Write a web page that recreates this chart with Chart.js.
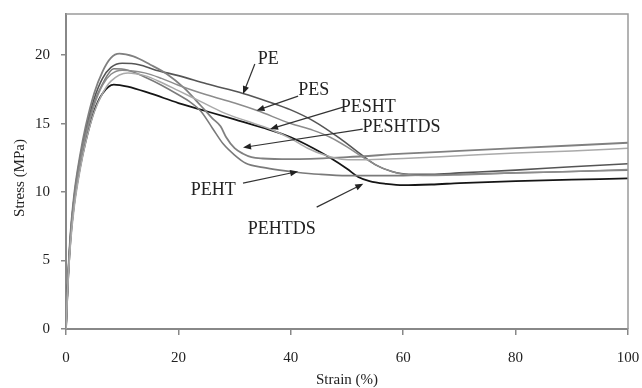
<!DOCTYPE html>
<html>
<head>
<meta charset="utf-8">
<script src="https://cdn.jsdelivr.net/npm/chart.js@4.4.0/dist/chart.umd.min.js"></script>
<style>
  html, body { margin: 0; padding: 0; background: #fff; }
  #wrap { width: 642px; height: 388px; }
</style>
</head>
<body>
<div id="wrap"><canvas id="grafik" width="642" height="388"></canvas></div>
<script>
// Kurva tegangan-regangan (Strain %, Stress MPa) untuk enam sampel
const strainPE = [0, 0.3, 0.8, 1.5, 2.5, 3.5, 5, 6.5, 8, 10, 13, 16, 20, 25, 31.5, 36, 40, 44, 48.8, 52, 55, 58, 61, 65, 70, 80, 90, 100];
const stressPE = [0, 3.2, 6.8, 9.8, 12.5, 14.5, 16.8, 18.3, 19.1, 19.4, 19.3, 18.9, 18.5, 17.9, 17.2, 16.6, 16.0, 15.2, 13.9, 12.9, 12.0, 11.5, 11.3, 11.3, 11.4, 11.6, 11.85, 12.07];

const strainPES = [0, 0.3, 0.8, 1.5, 2.5, 3.5, 5, 6.5, 8, 10, 14, 17, 20, 25, 30, 34, 40, 44, 47, 50, 53, 56, 60, 65, 70, 80, 90, 100];
const stressPES = [0, 3.1, 6.6, 9.5, 12.1, 14.1, 16.3, 17.8, 18.6, 18.9, 18.7, 18.3, 17.8, 17.1, 16.5, 15.95, 15.0, 14.5, 14.0, 13.3, 12.5, 11.8, 11.3, 11.2, 11.25, 11.4, 11.5, 11.65];

const strainPESHT = [0, 0.3, 0.8, 1.5, 2.5, 3.5, 5, 6.5, 8, 11, 14, 17, 20, 24, 28, 32, 36.3, 40, 43, 46, 49, 52, 56, 60, 70, 80, 90, 100];
const stressPESHT = [0, 2.9, 6.2, 9.0, 11.6, 13.6, 15.8, 17.2, 18.1, 18.7, 18.5, 18.0, 17.4, 16.6, 15.8, 15.2, 14.6, 13.9, 13.2, 12.7, 12.4, 12.35, 12.4, 12.45, 12.65, 12.85, 13.0, 13.2];

const strainPESHTDS = [0, 0.3, 0.8, 1.5, 2.5, 3.5, 5, 6.5, 8, 9.5, 12, 15, 18, 21, 24, 26, 27.5, 28.5, 30, 31.5, 33, 35, 40, 50, 60, 70, 80, 90, 100];
const stressPESHTDS = [0, 3.3, 7.0, 10.0, 12.7, 14.8, 17.2, 18.8, 19.8, 20.1, 19.9, 19.3, 18.6, 17.6, 16.3, 15.4, 14.8, 14.0, 13.2, 12.8, 12.55, 12.45, 12.4, 12.55, 12.8, 13.0, 13.2, 13.4, 13.6];

const strainPEHT = [0, 0.3, 0.8, 1.5, 2.5, 3.5, 5, 6.5, 8.5, 11, 14, 17, 20, 22, 24, 26, 28, 30, 32, 35, 38, 41, 45, 50, 60, 70, 80, 90, 100];
const stressPEHT = [0, 3.2, 6.8, 9.7, 12.3, 14.3, 16.5, 17.9, 19.0, 18.9, 18.4, 17.8, 17.1, 16.6, 15.9, 14.7, 13.5, 12.7, 12.1, 11.8, 11.6, 11.45, 11.3, 11.2, 11.2, 11.3, 11.4, 11.5, 11.6];

const strainPEHTDS = [0, 0.3, 0.8, 1.5, 2.5, 3.5, 5, 6.5, 8.5, 11, 15, 20, 25, 30, 35, 40, 44, 47, 50, 52, 54, 57, 60, 65, 70, 80, 90, 100];
const stressPEHTDS = [0, 3.0, 6.5, 9.3, 11.8, 13.7, 15.9, 17.2, 17.85, 17.7, 17.2, 16.5, 15.9, 15.3, 14.7, 14.0, 13.2, 12.5, 11.7, 11.1, 10.8, 10.6, 10.5, 10.55, 10.65, 10.8, 10.9, 11.0];

const xTicks = [0, 20, 40, 60, 80, 100];
const yTicks = [0, 5, 10, 15, 20];

// Label sampel: teks, posisi teks, pangkal panah, ujung panah (satuan data)
const labelNama = ['PE', 'PES', 'PESHT', 'PESHTDS', 'PEHT', 'PEHTDS'];
const labelPos = [[36.0, 19.7], [44.1, 17.4], [53.8, 16.2], [59.7, 14.7], [26.2, 10.1], [38.4, 7.3]];
const panahDari = [[33.6, 19.35], [41.3, 17.0], [49.3, 16.2], [52.8, 14.6], [31.5, 10.65], [44.6, 8.9]];
const panahKe = [[31.5, 17.15], [33.9, 15.95], [36.3, 14.6], [31.5, 13.25], [41.3, 11.5], [52.9, 10.6]];

const FONT = "'Liberation Serif', 'Times New Roman', serif";

function titik(xs, ys) {
  return xs.map((x, i) => ({ x, y: ys[i] }));
}

function garis(label, xs, ys, warna, tebal) {
  return {
    label,
    data: titik(xs, ys),
    borderColor: warna,
    borderWidth: tebal,
    pointRadius: 0,
    showLine: true,
    fill: false,
    cubicInterpolationMode: 'monotone'
  };
}

// Ukuran sumbu dipatok supaya area plot tidak bergeser karena label tick
function patokUkuran(s, lebar, tinggi) {
  if (lebar) s.width = lebar;
  if (tinggi) s.height = tinggi;
  s.paddingLeft = 0;
  s.paddingRight = 0;
  s.paddingTop = 0;
  s.paddingBottom = 0;
}

// Bingkai atas/kanan, judul sumbu, dan label berpanah
const pluginAnotasi = {
  id: 'anotasi',
  afterDraw(chart) {
    const ctx = chart.ctx;
    const area = chart.chartArea;
    const sx = chart.scales.x;
    const sy = chart.scales.y;
    ctx.save();

    ctx.strokeStyle = '#9a9a9a';
    ctx.lineWidth = 1.5;
    ctx.beginPath();
    ctx.moveTo(area.left, area.top);
    ctx.lineTo(area.right, area.top);
    ctx.lineTo(area.right, area.bottom);
    ctx.stroke();

    ctx.fillStyle = '#222';
    ctx.font = '15px ' + FONT;
    ctx.textAlign = 'center';
    ctx.textBaseline = 'middle';
    ctx.fillText('Strain (%)', (area.left + area.right) / 2, 380);
    ctx.save();
    ctx.translate(20, 178);
    ctx.rotate(-Math.PI / 2);
    ctx.fillText('Stress (MPa)', 0, 0);
    ctx.restore();

    ctx.font = '18px ' + FONT;
    labelNama.forEach((nama, i) => {
      const tx = sx.getPixelForValue(labelPos[i][0]);
      const ty = sy.getPixelForValue(labelPos[i][1]);
      ctx.fillStyle = '#222';
      ctx.fillText(nama, tx, ty);

      const x0 = sx.getPixelForValue(panahDari[i][0]);
      const y0 = sy.getPixelForValue(panahDari[i][1]);
      const x1 = sx.getPixelForValue(panahKe[i][0]);
      const y1 = sy.getPixelForValue(panahKe[i][1]);
      const sudut = Math.atan2(y1 - y0, x1 - x0);
      ctx.strokeStyle = '#333';
      ctx.lineWidth = 1.2;
      ctx.beginPath();
      ctx.moveTo(x0, y0);
      ctx.lineTo(x1 - 5 * Math.cos(sudut), y1 - 5 * Math.sin(sudut));
      ctx.stroke();
      ctx.fillStyle = '#222';
      ctx.beginPath();
      ctx.moveTo(x1, y1);
      ctx.lineTo(x1 - 8 * Math.cos(sudut) + 3.2 * Math.sin(sudut), y1 - 8 * Math.sin(sudut) - 3.2 * Math.cos(sudut));
      ctx.lineTo(x1 - 8 * Math.cos(sudut) - 3.2 * Math.sin(sudut), y1 - 8 * Math.sin(sudut) + 3.2 * Math.cos(sudut));
      ctx.closePath();
      ctx.fill();
    });

    ctx.restore();
  }
};

const ctx = document.getElementById('grafik').getContext('2d');
new Chart(ctx, {
  type: 'scatter',
  data: {
    datasets: [
      garis('PESHT', strainPESHT, stressPESHT, '#aaaaaa', 1.5),
      garis('PES', strainPES, stressPES, '#8c8c8c', 1.5),
      garis('PEHT', strainPEHT, stressPEHT, '#7a7a7a', 1.6),
      garis('PESHTDS', strainPESHTDS, stressPESHTDS, '#808080', 1.8),
      garis('PE', strainPE, stressPE, '#555555', 1.6),
      garis('PEHTDS', strainPEHTDS, stressPEHTDS, '#151515', 1.8)
    ]
  },
  options: {
    responsive: false,
    animation: false,
    devicePixelRatio: 1,
    layout: { padding: { top: 14, right: 14, left: 0, bottom: 0 } },
    plugins: { legend: { display: false }, tooltip: { enabled: false } },
    scales: {
      x: {
        type: 'linear',
        min: 0,
        max: 100,
        afterBuildTicks: s => { s.ticks = xTicks.map(v => ({ value: v })); },
        afterFit: s => patokUkuran(s, 0, 59),
        ticks: { color: '#222', padding: 14, maxRotation: 0, font: { family: FONT, size: 15 } },
        grid: { drawOnChartArea: false, tickLength: 6, color: '#888', lineWidth: 1.5 },
        border: { color: '#888', width: 2 }
      },
      y: {
        min: 0,
        max: 23,
        afterBuildTicks: s => { s.ticks = yTicks.map(v => ({ value: v })); },
        afterFit: s => patokUkuran(s, 66, 0),
        ticks: { color: '#222', padding: 11, font: { family: FONT, size: 15 } },
        grid: { drawOnChartArea: false, tickLength: 5, color: '#888', lineWidth: 1.5 },
        border: { color: '#888', width: 2 }
      }
    }
  },
  plugins: [pluginAnotasi]
});
</script>
</body>
</html>
